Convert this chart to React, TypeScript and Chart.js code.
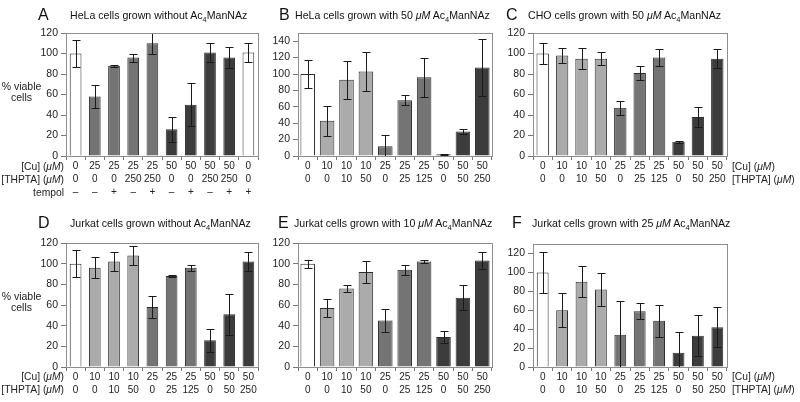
import React, { useEffect, useRef } from 'react';
import { Chart, registerables } from 'chart.js';

Chart.register(...registerables);

const FONT = '"Liberation Sans", Arial, Helvetica, sans-serif';
Chart.defaults.font.family = FONT;

// ---- Data ----
const cuA = ['0', '25', '25', '25', '25', '50', '50', '50', '50', '0'];
const thptaA = ['0', '0', '0', '250', '250', '0', '0', '250', '250', '0'];
const tempolA = ['–', '–', '+', '–', '+', '–', '+', '–', '+', '+'];
const shadesA = ['w', 'm', 'm', 'm', 'm', 'd', 'd', 'd', 'd', 'w'];

const cuStd = ['0', '10', '10', '10', '25', '25', '25', '50', '50', '50'];
const thptaStd = ['0', '0', '10', '50', '0', '25', '125', '0', '50', '250'];
const shadesStd = ['w', 'l', 'l', 'l', 'm', 'm', 'm', 'd', 'd', 'd'];

const valuesA = [100, 58, 88, 96, 110, 26, 50, 101, 96, 101];
const errorsA = [13, 11, 1, 4, 10, 12, 21, 9.5, 10, 9.5];

const valuesB = [100, 43, 93, 103, 12, 68, 96, 2, 30, 108];
const errorsB = [17, 18, 23, 24, 14, 6, 24, 0.5, 3, 35];

const valuesC = [100, 98, 95, 95, 47, 81, 96, 14, 38, 95];
const errorsC = [10, 7, 10, 6, 7, 7, 8, 1, 10, 9];

const valuesD = [100, 96, 102, 108, 58, 88, 96, 26, 51, 102];
const errorsD = [13, 10, 9, 9, 11, 1, 3, 11, 20, 9];

const valuesE = [100, 57, 76, 92, 45, 94, 102, 29, 67, 103];
const errorsE = [4, 8.5, 3.5, 10.5, 11, 5, 1.5, 6, 12, 8];

const valuesF = [100, 60, 90, 82, 34, 59, 49, 15, 33, 42];
const errorsF = [21.5, 18, 16.5, 17, 36, 8.5, 17, 21.5, 21.5, 21];

const yMaxA = 120, yMaxB = 150, yMaxC = 120, yMaxD = 120, yMaxE = 120, yMaxF = 130;

const SHADE_COLORS: Record<string, string> = {
  w: '#ffffff',
  l: '#ababab',
  m: '#747474',
  d: '#3c3c3c',
};

const labelsA = cuA.map((c, i) => [c, thptaA[i], tempolA[i]]);
const labelsStd = cuStd.map((c, i) => [c, thptaStd[i]]);

// ---- Plugins ----
const boxPlugin = {
  id: 'plotBox',
  afterDraw(chart: any) {
    const { ctx, chartArea } = chart;
    ctx.save();
    ctx.strokeStyle = '#8e8e8e';
    ctx.lineWidth = 1;
    ctx.strokeRect(
      Math.round(chartArea.left) + 0.5,
      Math.round(chartArea.top) + 0.5,
      Math.round(chartArea.right - chartArea.left),
      Math.round(chartArea.bottom - chartArea.top)
    );
    ctx.restore();
  },
};

const errorBarPlugin = {
  id: 'errorBars',
  afterDatasetsDraw(chart: any, _args: any, opts: any) {
    const errs: number[] = opts.errors || [];
    const meta = chart.getDatasetMeta(0);
    const yScale = chart.scales.y;
    const vals = chart.data.datasets[0].data as number[];
    const ctx = chart.ctx;
    ctx.save();
    ctx.strokeStyle = '#1a1a1a';
    ctx.lineWidth = 1;
    meta.data.forEach((el: any, i: number) => {
      const v = vals[i];
      const e = errs[i];
      if (!e) return;
      const x = Math.round(el.x) + 0.5;
      const yTop = Math.round(yScale.getPixelForValue(v + e)) + 0.5;
      const yBot = Math.round(yScale.getPixelForValue(Math.max(v - e, 0))) + 0.5;
      const hw = 4;
      ctx.beginPath();
      ctx.moveTo(x, yTop);
      ctx.lineTo(x, yBot);
      ctx.moveTo(x - hw, yTop);
      ctx.lineTo(x + hw, yTop);
      if (v - e > 0) {
        ctx.moveTo(x - hw, yBot);
        ctx.lineTo(x + hw, yBot);
      }
      ctx.stroke();
    });
    ctx.restore();
  },
};

// ---- Panels ----
interface PanelSpec {
  left: number;
  top: number;
  width: number;
  height: number;
  padLeft: number;
  padRight: number;
  padTop: number;
  yWidth: number;
  xHeight: number;
  max: number;
  labels: string[][];
  values: number[];
  errors: number[];
  shades: string[];
  bar: number;
}

const panels: PanelSpec[] = [
  { left: 0, top: 0, width: 265, height: 200, padLeft: 26, padRight: 7, padTop: 33, yWidth: 40, xHeight: 44, max: yMaxA, labels: labelsA, values: valuesA, errors: errorsA, shades: shadesA, bar: 0.61 },
  { left: 265, top: 0, width: 235, height: 200, padLeft: 3, padRight: 8, padTop: 33, yWidth: 30, xHeight: 44, max: yMaxB, labels: labelsStd, values: valuesB, errors: errorsB, shades: shadesStd, bar: 0.75 },
  { left: 500, top: 0, width: 300, height: 200, padLeft: 3, padRight: 73, padTop: 33, yWidth: 30, xHeight: 44, max: yMaxC, labels: labelsStd, values: valuesC, errors: errorsC, shades: shadesStd, bar: 0.64 },
  { left: 0, top: 200, width: 265, height: 202, padLeft: 26, padRight: 7, padTop: 43, yWidth: 40, xHeight: 35, max: yMaxD, labels: labelsStd, values: valuesD, errors: errorsD, shades: shadesStd, bar: 0.61 },
  { left: 265, top: 200, width: 235, height: 202, padLeft: 3, padRight: 8, padTop: 43, yWidth: 30, xHeight: 35, max: yMaxE, labels: labelsStd, values: valuesE, errors: errorsE, shades: shadesStd, bar: 0.75 },
  { left: 500, top: 200, width: 300, height: 202, padLeft: 3, padRight: 73, padTop: 44, yWidth: 30, xHeight: 35, max: yMaxF, labels: labelsStd, values: valuesF, errors: errorsF, shades: shadesStd, bar: 0.61 },
];

function Panel({ spec }: { spec: PanelSpec }) {
  const ref = useRef<HTMLCanvasElement>(null);
  useEffect(() => {
    if (!ref.current) return;
    const chart = new Chart(ref.current, {
      type: 'bar',
      data: {
        labels: spec.labels as any,
        datasets: [
          {
            data: spec.values,
            backgroundColor: spec.shades.map((s) => SHADE_COLORS[s]),
            borderColor: '#2e2e2e',
            borderWidth: 1,
            barPercentage: spec.bar,
            categoryPercentage: 1,
          },
        ],
      },
      options: {
        animation: false,
        responsive: false,
        maintainAspectRatio: false,
        layout: { padding: { left: spec.padLeft, right: spec.padRight, top: spec.padTop, bottom: 0 } },
        plugins: {
          legend: { display: false },
          tooltip: { enabled: false },
          title: { display: false },
          errorBars: { errors: spec.errors },
        } as any,
        scales: {
          x: {
            grid: { display: true, drawOnChartArea: false, drawTicks: true, tickLength: 4, color: '#777', offset: true },
            border: { display: true, color: '#777' },
            ticks: {
              autoSkip: false,
              maxRotation: 0,
              minRotation: 0,
              padding: 0,
              color: '#222',
              font: { size: 10, lineHeight: '13px' } as any,
            },
            afterFit: (s: any) => {
              s.height = spec.xHeight;
            },
          },
          y: {
            min: 0,
            max: spec.max,
            grid: { display: true, drawOnChartArea: false, drawTicks: true, tickLength: 5, color: '#777' },
            border: { display: true, color: '#777' },
            ticks: {
              stepSize: 20,
              includeBounds: false,
              padding: 3,
              color: '#222',
              font: { size: 10.5 },
            },
            afterFit: (s: any) => {
              s.width = spec.yWidth;
            },
          },
        },
      },
      plugins: [boxPlugin, errorBarPlugin],
    });
    return () => chart.destroy();
  }, [spec]);
  return (
    <canvas
      ref={ref}
      width={spec.width}
      height={spec.height}
      style={{ position: 'absolute', left: spec.left, top: spec.top, width: spec.width, height: spec.height }}
    />
  );
}

const Sub4 = () => (
  <span style={{ fontSize: 7.5, position: 'relative', top: 3 }}>4</span>
);
const MuM = () => <i>μM</i>;

function Title({ letter, lx, tx, cy, children }: { letter: string; lx: number; tx: number; cy: number; children: React.ReactNode }) {
  return (
    <>
      <div style={{ position: 'absolute', left: lx, top: cy - 10, fontSize: 16, lineHeight: '20px', whiteSpace: 'nowrap' }}>{letter}</div>
      <div style={{ position: 'absolute', left: tx, top: cy - 7, fontSize: 10.6, lineHeight: '14px', whiteSpace: 'nowrap' }}>{children}</div>
    </>
  );
}

function RowLabel({ x, cy, align, children }: { x: number; cy: number; align: 'left' | 'right'; children: React.ReactNode }) {
  const style: React.CSSProperties = {
    position: 'absolute',
    top: cy - 6.5,
    fontSize: 10.3,
    lineHeight: '13px',
    whiteSpace: 'nowrap',
    color: '#222',
  };
  if (align === 'right') {
    style.left = 0;
    style.width = x;
    style.textAlign = 'right';
  } else {
    style.left = x;
  }
  return <div style={style}>{children}</div>;
}

export default function App() {
  return (
    <div
      style={{
        position: 'fixed',
        left: 0,
        top: 0,
        width: 800,
        height: 402,
        background: '#fff',
        overflow: 'hidden',
        fontFamily: FONT,
        color: '#111',
      }}
    >
      {panels.map((p, i) => (
        <Panel key={i} spec={p} />
      ))}

      <Title letter="A" lx={38} tx={70} cy={15}>HeLa cells grown without Ac<Sub4 />ManNAz</Title>
      <Title letter="B" lx={279} tx={295} cy={15}>HeLa cells grown with 50 <MuM /> Ac<Sub4 />ManNAz</Title>
      <Title letter="C" lx={506} tx={528} cy={15}>CHO cells grown with 50 <MuM /> Ac<Sub4 />ManNAz</Title>
      <Title letter="D" lx={38} tx={70} cy={223}>Jurkat cells grown without Ac<Sub4 />ManNAz</Title>
      <Title letter="E" lx={278} tx={294} cy={223}>Jurkat cells grown with 10 <MuM /> Ac<Sub4 />ManNAz</Title>
      <Title letter="F" lx={512} tx={532} cy={223}>Jurkat cells grown with 25 <MuM /> Ac<Sub4 />ManNAz</Title>

      <div style={{ position: 'absolute', left: 0, width: 43, top: 81, fontSize: 10.5, lineHeight: '11px', textAlign: 'center', color: '#222' }}>
        % viable<br />cells
      </div>
      <div style={{ position: 'absolute', left: 0, width: 43, top: 291, fontSize: 10.5, lineHeight: '11px', textAlign: 'center', color: '#222' }}>
        % viable<br />cells
      </div>

      <RowLabel x={64} cy={166} align="right">[Cu] (<MuM />)</RowLabel>
      <RowLabel x={64} cy={179} align="right">[THPTA] (<MuM />)</RowLabel>
      <RowLabel x={64} cy={192} align="right">tempol</RowLabel>

      <RowLabel x={64} cy={376} align="right">[Cu] (<MuM />)</RowLabel>
      <RowLabel x={64} cy={389} align="right">[THPTA] (<MuM />)</RowLabel>

      <RowLabel x={732} cy={166} align="left">[Cu] (<MuM />)</RowLabel>
      <RowLabel x={732} cy={179} align="left">[THPTA] (<MuM />)</RowLabel>

      <RowLabel x={732} cy={376} align="left">[Cu] (<MuM />)</RowLabel>
      <RowLabel x={732} cy={389} align="left">[THPTA] (<MuM />)</RowLabel>
    </div>
  );
}
